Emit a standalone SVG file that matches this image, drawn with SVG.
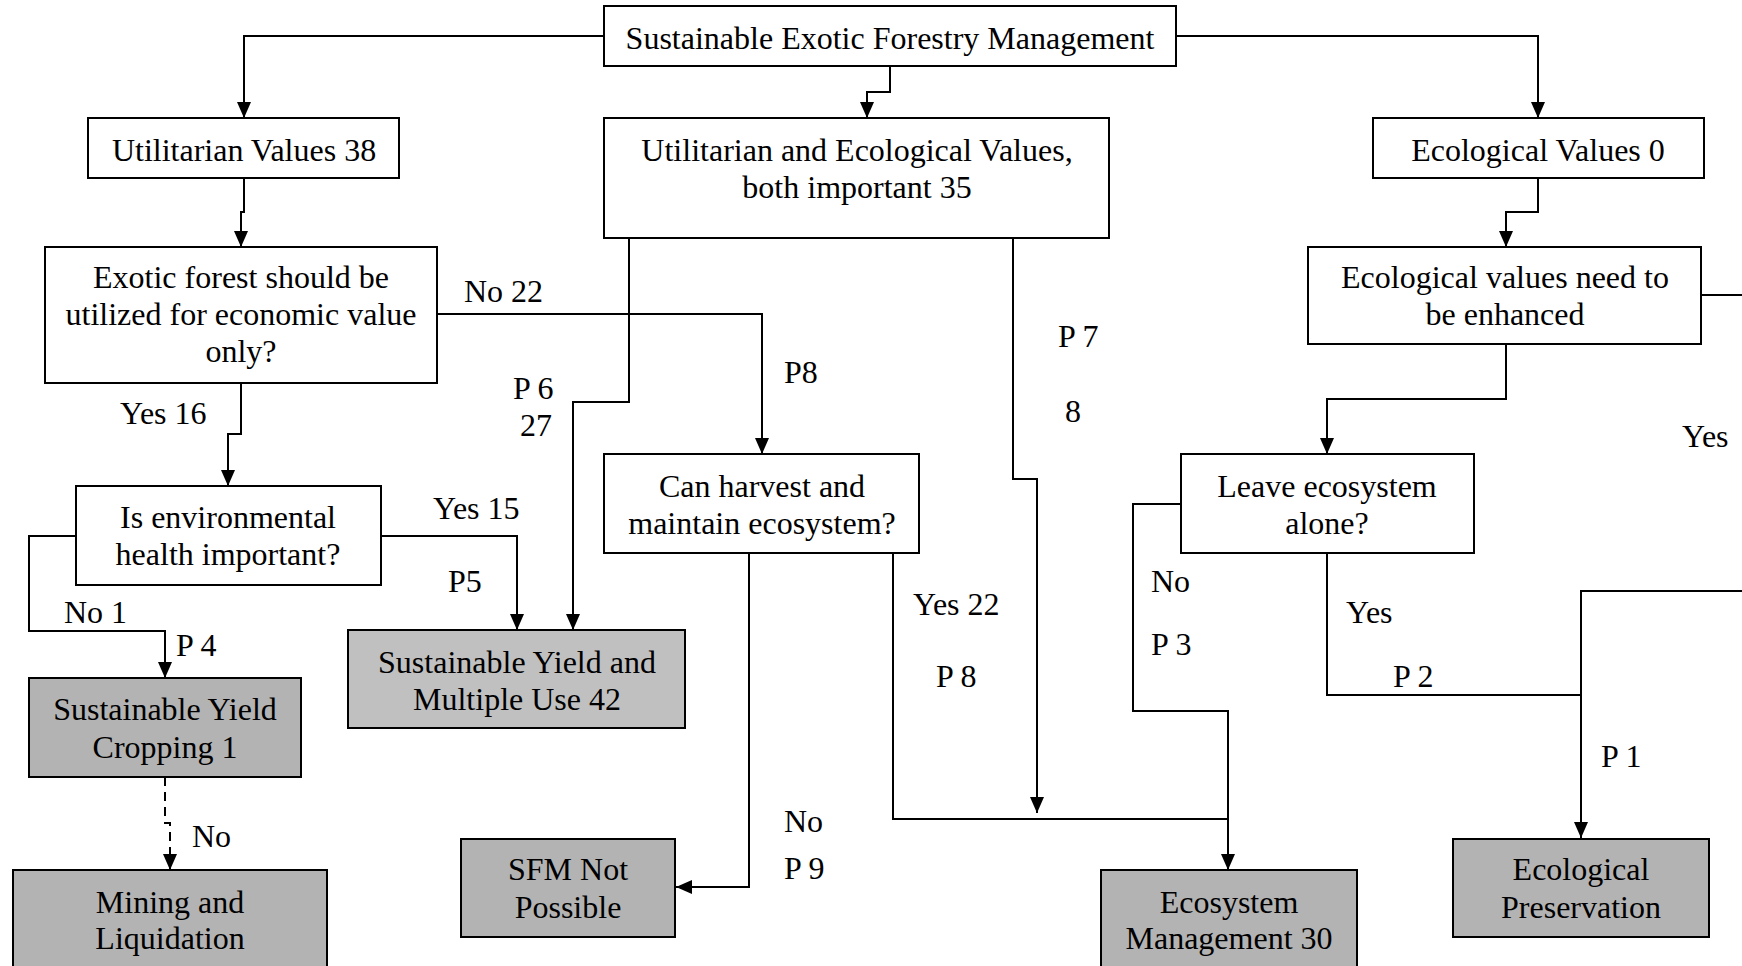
<svg xmlns="http://www.w3.org/2000/svg" width="1742" height="966" viewBox="0 0 1742 966">
<style>
.box{fill:#fff;stroke:#000;stroke-width:2}
.dark{fill:#b3b3b3;stroke:#000;stroke-width:2}
.light{fill:#c0c0c0;stroke:#000;stroke-width:2}
text{font-family:"Liberation Serif","Times New Roman",serif;font-size:32px;fill:#000}
.c{text-anchor:middle}
.ln{fill:none;stroke:#000;stroke-width:2}
.arr{marker-end:url(#ah)}
.dash{stroke-dasharray:9 6}
</style>
<defs>
<marker id="ah" markerUnits="userSpaceOnUse" markerWidth="16" markerHeight="14" refX="16" refY="7" orient="auto">
<path d="M0,0 L16,7 L0,14 z" fill="#000"/>
</marker>
</defs>
<rect width="1742" height="966" fill="#fff"/>
<g id="connectors">
<path class="ln arr" d="M604,36 H244 V118"/>
<path class="ln arr" d="M890,66 V92 H867 V118"/>
<path class="ln arr" d="M1176,36 H1538 V118"/>
<path class="ln arr" d="M244,178 V212 H241 V247"/>
<path class="ln arr" d="M1538,178 V212 H1506 V247"/>
<path class="ln" d="M1701,295 H1742"/>
<path class="ln arr" d="M1506,344 V399 H1327 V454"/>
<path class="ln arr" d="M437,314 H762 V454"/>
<path class="ln arr" d="M629,238 V402 H573 V630"/>
<path class="ln arr" d="M241,383 V434 H228 V486"/>
<path class="ln arr" d="M76,536 H29 V631 H165 V678"/>
<path class="ln arr" d="M381,536 H517 V630"/>
<path class="ln dash" d="M165,777 V823 H170 V855"/>
<path class="ln arr" d="M170,852 V870"/>
<path class="ln arr" d="M749,553 V887 H676"/>
<path class="ln" d="M893,553 V819 H1228"/>
<path class="ln arr" d="M1013,238 V479 H1037 V813"/>
<path class="ln arr" d="M1181,504 H1133 V711 H1228 V870"/>
<path class="ln" d="M1327,553 V695 H1581"/>
<path class="ln arr" d="M1742,591 H1581 V838"/>
</g>
<g id="labels">
<text x="464" y="302">No 22</text>
<text x="784" y="383">P8</text>
<text x="513" y="399">P 6</text>
<text x="520" y="436">27</text>
<text x="120" y="424">Yes 16</text>
<text x="433" y="519">Yes 15</text>
<text x="448" y="592">P5</text>
<text x="64" y="623">No 1</text>
<text x="176" y="656">P 4</text>
<text x="192" y="847">No</text>
<text x="784" y="832">No</text>
<text x="784" y="879">P 9</text>
<text x="1058" y="347">P 7</text>
<text x="1065" y="422">8</text>
<text x="913" y="615">Yes 22</text>
<text x="936" y="687">P 8</text>
<text x="1151" y="592">No</text>
<text x="1151" y="655">P 3</text>
<text x="1346" y="623">Yes</text>
<text x="1393" y="687">P 2</text>
<text x="1601" y="767">P 1</text>
<text x="1682" y="447">Yes</text>
</g>
<g id="n-title"><rect class="box" x="604" y="6" width="572" height="60"/><text class="c" x="890" y="49">Sustainable Exotic Forestry Management</text></g>
<g id="n-util"><rect class="box" x="88" y="118" width="311" height="60"/><text class="c" x="244" y="161">Utilitarian Values 38</text></g>
<g id="n-both"><rect class="box" x="604" y="118" width="505" height="120"/><text class="c" x="857" y="161">Utilitarian and Ecological Values,</text><text class="c" x="857" y="198">both important 35</text></g>
<g id="n-eco"><rect class="box" x="1373" y="118" width="331" height="60"/><text class="c" x="1538" y="161">Ecological Values 0</text></g>
<g id="n-ecoenh"><rect class="box" x="1308" y="247" width="393" height="97"/><text class="c" x="1505" y="288">Ecological values need to</text><text class="c" x="1505" y="325">be enhanced</text></g>
<g id="n-exotic"><rect class="box" x="45" y="247" width="392" height="136"/><text class="c" x="241" y="288">Exotic forest should be</text><text class="c" x="241" y="325">utilized for economic value</text><text class="c" x="241" y="362">only?</text></g>
<g id="n-env"><rect class="box" x="76" y="486" width="305" height="99"/><text class="c" x="228" y="528">Is environmental</text><text class="c" x="228" y="565">health important?</text></g>
<g id="n-can"><rect class="box" x="604" y="454" width="315" height="99"/><text class="c" x="762" y="497">Can harvest and</text><text class="c" x="762" y="534">maintain ecosystem?</text></g>
<g id="n-leave"><rect class="box" x="1181" y="454" width="293" height="99"/><text class="c" x="1327" y="497">Leave ecosystem</text><text class="c" x="1327" y="534">alone?</text></g>
<g id="n-syc"><rect class="dark" x="29" y="678" width="272" height="99"/><text class="c" x="165" y="720">Sustainable Yield</text><text class="c" x="165" y="758">Cropping 1</text></g>
<g id="n-sym"><rect class="light" x="348" y="630" width="337" height="98"/><text class="c" x="517" y="673">Sustainable Yield and</text><text class="c" x="517" y="710">Multiple Use 42</text></g>
<g id="n-mining"><rect class="dark" x="13" y="870" width="314" height="110"/><text class="c" x="170" y="913">Mining and</text><text class="c" x="170" y="949">Liquidation</text></g>
<g id="n-sfm"><rect class="dark" x="461" y="839" width="214" height="98"/><text class="c" x="568" y="880">SFM Not</text><text class="c" x="568" y="918">Possible</text></g>
<g id="n-ecomgmt"><rect class="dark" x="1101" y="870" width="256" height="110"/><text class="c" x="1229" y="913">Ecosystem</text><text class="c" x="1229" y="949">Management 30</text></g>
<g id="n-ecopres"><rect class="dark" x="1453" y="839" width="256" height="98"/><text class="c" x="1581" y="880">Ecological</text><text class="c" x="1581" y="918">Preservation</text></g>
</svg>
